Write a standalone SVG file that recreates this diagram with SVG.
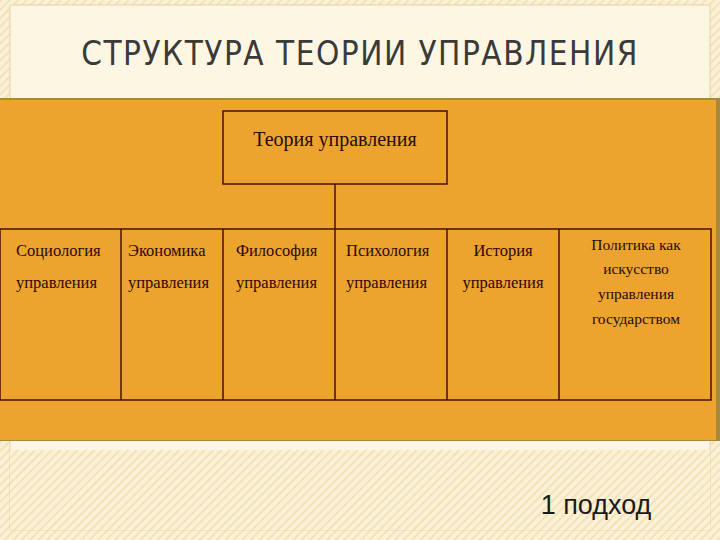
<svg xmlns="http://www.w3.org/2000/svg" width="720" height="540" viewBox="0 0 720 540">
<defs>
<pattern id="st" width="6" height="6" patternUnits="userSpaceOnUse" patternTransform="rotate(45)">
<rect width="6" height="6" fill="#fbf1d6"/><rect width="2" height="6" fill="#f3e2b8"/>
</pattern>
<style>
.c{fill:none;stroke:#4a0e0e;stroke-width:1.5}
.t{font-family:"Liberation Serif",serif;font-size:16.5px;fill:#2a0a0a}
.p{font-size:15.5px}
.r{font-size:20px}
</style>
</defs>
<rect width="720" height="540" fill="url(#st)"/>
<rect x="10" y="5" width="700" height="525" fill="#fdf6e3" stroke="#e6d3a6" stroke-width="1"/>
<rect x="10" y="450" width="700" height="80" fill="url(#st)"/>
<text x="360" y="65" text-anchor="middle" font-family="DejaVu Sans Condensed, Liberation Sans, sans-serif" font-size="33" fill="#3a3a3a" letter-spacing="1.5">СТРУКТУРА ТЕОРИИ УПРАВЛЕНИЯ</text>
<rect x="0" y="98" width="720" height="343" fill="#a8883a"/>
<rect x="0" y="100" width="716" height="340" fill="#eda42e"/>
<g id="connectors"><line class="c" x1="335" y1="184" x2="335" y2="229"/></g>
<g id="root"><rect class="c" x="223" y="111" width="224" height="73"/>
<text class="t r" x="335" y="146" text-anchor="middle">Теория управления</text></g>
<g id="table"><rect class="c" x="0" y="229" width="711" height="171"/>
<line class="c" x1="121" y1="229" x2="121" y2="400"/><line class="c" x1="223" y1="229" x2="223" y2="400"/>
<line class="c" x1="335" y1="229" x2="335" y2="400"/><line class="c" x1="447" y1="229" x2="447" y2="400"/>
<line class="c" x1="559" y1="229" x2="559" y2="400"/></g>
<g id="n1"><text class="t" x="16" y="256">Социология</text><text class="t" x="16" y="288">управления</text></g>
<g id="n2"><text class="t" x="128" y="256">Экономика</text><text class="t" x="128" y="288">управления</text></g>
<g id="n3"><text class="t" x="236" y="256">Философия</text><text class="t" x="236" y="288">управления</text></g>
<g id="n4"><text class="t" x="346" y="256">Психология</text><text class="t" x="346" y="288">управления</text></g>
<g id="n5"><text class="t" x="503" y="256" text-anchor="middle">История</text><text class="t" x="503" y="288" text-anchor="middle">управления</text></g>
<g id="n6" text-anchor="middle"><text class="t p" x="636" y="250">Политика как</text><text class="t p" x="636" y="274">искусство</text><text class="t p" x="636" y="299">управления</text><text class="t p" x="636" y="324">государством</text></g>
<text x="596" y="514" text-anchor="middle" font-family="Liberation Sans, sans-serif" font-size="27" fill="#1a1a1a">1 подход</text>
</svg>
